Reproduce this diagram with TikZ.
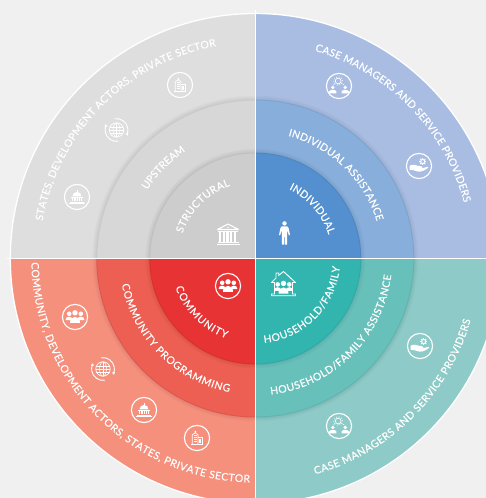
\documentclass[tikz,border=0pt]{standalone}
\usepackage{fontspec}
\setmainfont{Lato}
\newfontfamily\arcfont[FakeBold=0.25]{Lato}
\usetikzlibrary{decorations.text}
\definecolor{bgc}{HTML}{F0F0F0}
\definecolor{ga}{HTML}{DEDEDE}\definecolor{gb}{HTML}{D7D7D7}\definecolor{gc}{HTML}{CDCDCD}
\definecolor{ba}{HTML}{A9BDE3}\definecolor{bb}{HTML}{88AEDB}\definecolor{bc}{HTML}{5490CF}
\definecolor{ra}{HTML}{F5907D}\definecolor{rb}{HTML}{EC5F52}\definecolor{rc}{HTML}{E73333}
\definecolor{ta}{HTML}{8ECBC8}\definecolor{tb}{HTML}{68C0BB}\definecolor{tc}{HTML}{33B5AF}
\newcommand\fnt{\arcfont\fontsize{10.4}{11}\selectfont}
\newcommand\CX{255.3}\newcommand\CY{239.5}
\tikzset{
  ring/.style={draw=white,line width=1.1},
  thinw/.style={draw=white,line width=.7},
  people/.pic={
    \fill[white] (-5.8,3.2) circle (2.3); \fill[white] (5.8,3.2) circle (2.3);
    \fill[white] (-9.5,-3.2) .. controls (-9.5,1.6) and (-2.5,1.6) .. (-2,-3.2) -- cycle;
    \fill[white] (9.5,-3.2) .. controls (9.5,1.6) and (2.5,1.6) .. (2,-3.2) -- cycle;
    \fill[white] (0,4.2) circle (2.7);
    \fill[white] (-5,-6) .. controls (-5.4,2.2) and (5.4,2.2) .. (5,-6) -- cycle;
  },
  building/.pic={
    \draw[thinw] (-5,-6.5) -- (-5,3.5) -- (-2.2,5) -- (-2.2,7) -- (-1.2,7) -- (-1.2,5) -- (1,3.5) -- (1,-6.5);
    \draw[thinw] (1,.5) -- (5.5,.5) -- (5.5,-6.5);
    \draw[thinw,line width=.9] (-6.5,-6.5) -- (6.5,-6.5);
    \foreach \a in {-3.4,-2,-.6} \foreach \b in {-4,-2,0,2}
      \fill[white] (\a,\b) rectangle +(.8,.9);
    \fill[white] (2.5,-5) rectangle +(1.4,3.5);
  },
  dome/.pic={
    \fill[white] (-4.5,.6) arc (180:0:4.5) -- cycle;
    \fill[white] (-.4,4.5) rectangle (.4,7);
    \fill[white] (-6,-.4) rectangle (6,.2);
    \foreach \a in {-5,-2.6,-.3,2,4.3} \fill[white] (\a,-4) rectangle +(1.1,3.2);
    \fill[white] (-7,-5.5) rectangle (7,-4.6);
    \fill[white] (-8,-7.4) rectangle (8,-6.5);
  },
  globe/.pic={
    \draw[thinw] (0,0) circle (7.6);
    \draw[thinw,line width=.55] (0,0) ellipse (3.6 and 7.6);
    \draw[thinw,line width=.55] (0,-7.6) -- (0,7.6) (-7.6,0) -- (7.6,0);
    \draw[thinw,line width=.55] (-6.9,3.3) -- (6.9,3.3) (-6.9,-3.3) -- (6.9,-3.3);
    \draw[thinw,line width=.9] (100:12) arc (100:-20:12);
    \draw[thinw,line width=.9] (280:12) arc (280:160:12);
    \fill[white] (-20:12) ++(-1.9,.4) -- ++(3.2,.5) -- ++(-1.1,-3) -- cycle;
    \fill[white] (160:12) ++(1.9,-.4) -- ++(-3.2,-.5) -- ++(1.1,3) -- cycle;
  },
  bank/.pic={
    \draw[white,line width=1.1,line join=round] (-10.5,4.5) -- (0,10) -- (10.5,4.5) -- cycle;
    \fill[white] (0,6.8) circle (.9);
    \fill[white] (-10,2.6) rectangle (10,3.4);
    \foreach \a in {-9,-5.3,-1.6,2.1,5.8} \fill[white] (\a,-8) rectangle +(2.2,10);
    \fill[white] (-10.5,-9.2) rectangle (10.5,-8.4);
    \fill[white] (-11.5,-11) rectangle (11.5,-9.8);
  },
  team/.pic={
    \draw[thinw] (-.8,5) circle (2.9);
    \draw[thinw,dotted,line width=.8] (-.8,5) circle (4.4);
    \foreach \s in {-1,1}{
      \fill[white] (\s*6.5-\s*.3,-1.5) circle (1.8);
      \fill[white] (\s*6.2-3.6,-7.5) -- (\s*6.2-3.6,-5.5) .. controls (\s*6.2-2.6,-3.3) and (\s*6.2+2.6,-3.3) .. (\s*6.2+3.6,-5.5) -- (\s*6.2+3.6,-7.5) -- cycle;
    }
    \draw[thinw,dash pattern=on .9pt off .9pt] (-4,2.5) -- (-6,.8) (2.5,2.5) -- (6,.8);
  },
  hand/.pic={
    \fill[white] (-9.5,.2) .. controls (-6,2) and (-3.5,1.2) .. (-1,.2) -- (3,-.6) .. controls (4,-.8) and (4,-1.8) .. (2.5,-1.8) -- (-.5,-1.8) -- (3,-2.3) -- (8.5,-.8) .. controls (9.5,-.6) and (9.5,-1.6) .. (8.5,-2.3) .. controls (5,-5) and (1,-6.5) .. (-2.5,-5.2) .. controls (-4.5,-4.5) and (-6.5,-3.6) .. (-9.5,-3.8) -- cycle;
    \draw[thinw,line width=1] (3.7,4.5) circle (2.1);
    \foreach \a in {0,45,...,315} \draw[white,line width=.9] (3.7,4.5) ++(\a:2.5) -- ++(\a:1.1);
  },
  person/.pic={
    \fill[white] (0,9.6) circle (2.2);
    \fill[white] (-2.7,6.6) -- (2.7,6.6) .. controls (3.6,6.6) and (3.9,6) .. (4.1,5) -- (5.5,-2) -- (4.4,-2.4) -- (2.6,3.2) -- (2.5,-11.6) -- (.5,-11.6) -- (.2,-2.5) -- (-.2,-2.5) -- (-.5,-11.6) -- (-2.5,-11.6) -- (-2.6,3.2) -- (-4.4,-2.4) -- (-5.5,-2) -- (-4.1,5) .. controls (-3.9,6) and (-3.6,6.6) .. (-2.7,6.6) -- cycle;
  },
  house/.pic={
    \draw[white,line width=.9,line join=round] (-7.5,6) -- (-7.5,11) -- (-4.8,11) -- (-4.8,8.6) -- (0,12.5) -- (12,1.5) -- (9,1.5) -- (9,-10) -- (12,-10) -- (12,-11.8) -- (-12,-11.8) -- (-12,-10) -- (-9,-10) -- (-9,1.5) -- (-12,1.5) -- cycle;
    \begin{scope}[scale=.72,yshift=-5pt]
      \pic {people};
    \end{scope}
  }
}
% quadrant: start angle, colours a b c
\newcommand\quadr[4]{%
  \begin{scope}
    \clip (\CX,\CY) -- ++(#1:246) arc (#1:#1+90:246) -- cycle;
    \fill[#2] (\CX,\CY) circle (245);
    \foreach \i in {1,...,4}
      \fill[black,opacity=.014] (\CX,\CY) circle (159+\i);
    \fill[#3] (\CX,\CY) circle (159);
    \draw[black,opacity=.06,line width=1] (\CX,\CY) circle (158.5);
    \foreach \i in {1,...,4}
      \fill[black,opacity=.014] (\CX,\CY) circle (106+\i);
    \fill[#4] (\CX,\CY) circle (106);
    \draw[black,opacity=.06,line width=1] (\CX,\CY) circle (105.5);
  \end{scope}}
% radius, start angle, end angle, text
\newcommand\arctext[4]{%
  \path[decorate,decoration={text along path,text align={fit to path},text={|\fnt\color{white}|#4}}]
    (\CX,\CY) ++(#2:#1) arc (#2:#3:#1);}
\begin{document}
\begin{tikzpicture}[x=1pt,y=1pt]
\useasboundingbox (0,0) rectangle (486,498);
\fill[bgc] (0,0) rectangle (486,498);
\begin{scope}
\clip (0,0) rectangle (486,498);
\quadr{0}{ba}{bb}{bc}
\quadr{90}{ga}{gb}{gc}
\quadr{180}{ra}{rb}{rc}
\quadr{270}{ta}{tb}{tc}
\draw[white,line width=1.3] (\CX,\CY) circle (245);
\draw[white,line width=1.6] (\CX,\CY) ++(0,248) -- ++(0,-496);
\draw[white,line width=1.6] (\CX,\CY) ++(-248,0) -- ++(496,0);
\end{scope}
% curved labels
\arctext{216}{170}{100.5}{STATES, DEVELOPMENT ACTORS, PRIVATE SECTOR}
\arctext{128}{147.6}{123.4}{UPSTREAM}
\arctext{77}{161}{109}{STRUCTURAL}
\arctext{216}{74}{15}{CASE MANAGERS AND SERVICE PROVIDERS}
\arctext{127}{75}{17}{INDIVIDUAL ASSISTANCE}
\arctext{77}{64}{18}{INDIVIDUAL}
\arctext{224}{181}{268.5}{COMMUNITY, DEVELOPMENT ACTORS, STATES, PRIVATE SECTOR}
\arctext{136}{191}{259}{COMMUNITY PROGRAMMING}
\arctext{85}{200}{250}{COMMUNITY}
\arctext{224}{-74.5}{-16}{CASE MANAGERS AND SERVICE PROVIDERS}
\arctext{137}{-83.5}{-7}{HOUSEHOLD/FAMILY ASSISTANCE}
\arctext{85}{-84}{-5.5}{HOUSEHOLD/FAMILY}
% icons with a ring
\foreach \x/\y in {180/413,339/412,419/332,228/212,75/181,144/88,197/60,420/152,339/72,77/301}
  \draw[ring] (\x,\y) circle (12.6);
\pic[scale=.95] at (180,413) {building};
\pic[scale=.95] at (197,60) {building};
\pic at (77,301) {dome};
\pic at (144,88) {dome};
\pic[scale=.95] at (116.5,368) {globe};
\pic[scale=.95] at (103,129) {globe};
\pic at (228,264) {bank};
\pic at (339,412) {team};
\pic at (339,72) {team};
\pic at (419,332) {hand};
\pic at (420,152) {hand};
\pic at (284.5,265) {person};
\pic at (228,212) {people};
\pic at (75,181) {people};
\pic at (283.5,214) {house};
\end{tikzpicture}
\end{document}
